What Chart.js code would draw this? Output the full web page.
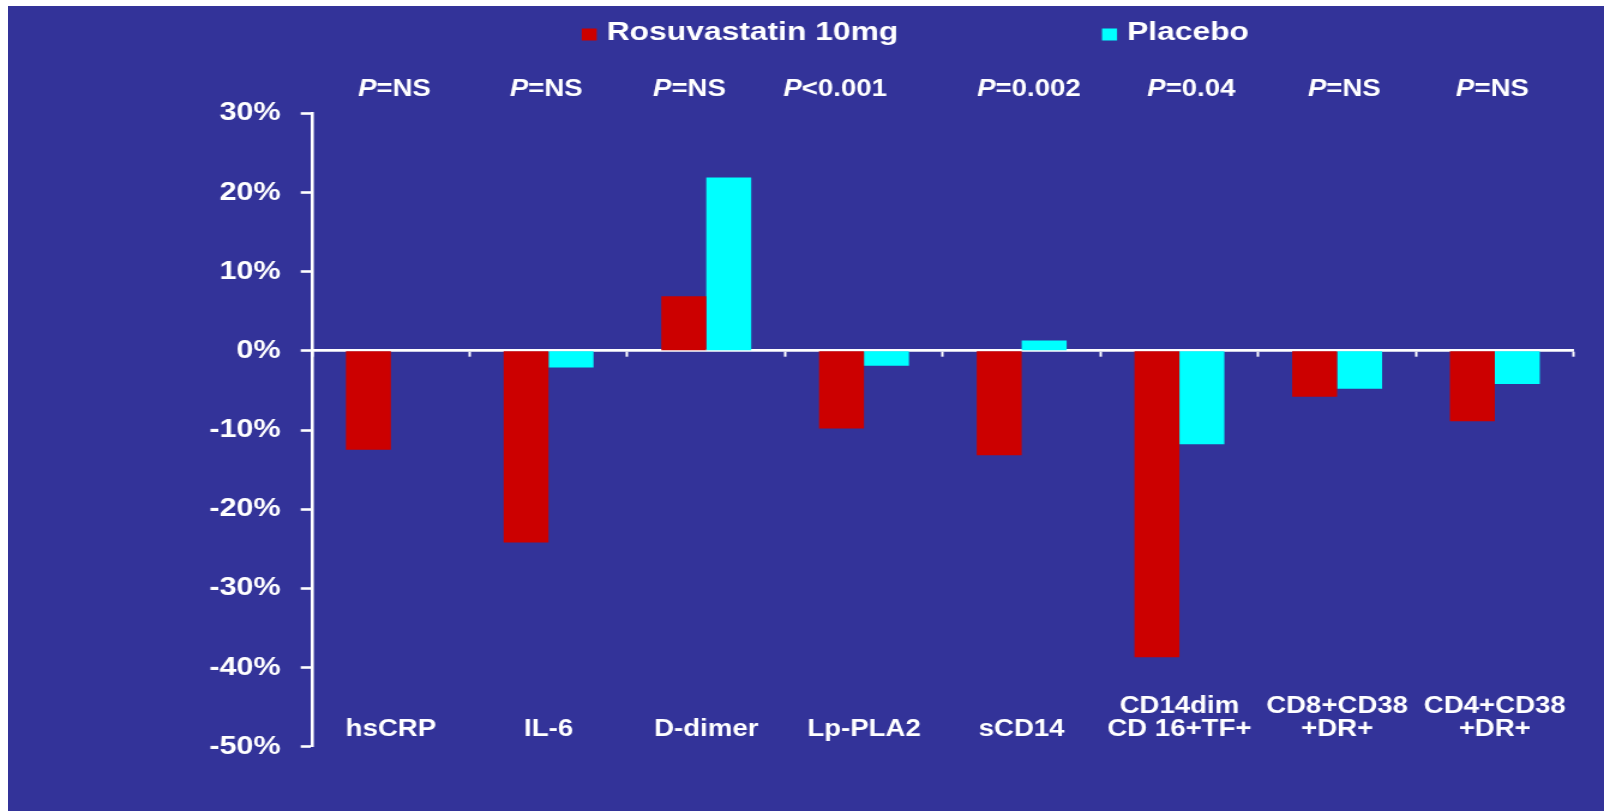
<!DOCTYPE html>
<html>
<head>
<meta charset="utf-8">
<title>Rosuvastatin 10mg vs Placebo</title>
<script src="https://cdn.jsdelivr.net/npm/chart.js@4.4.1/dist/chart.umd.min.js"></script>
<style>
  html, body { margin: 0; padding: 0; width: 1604px; height: 811px; overflow: hidden; background: #ffffff; }
  #panel { position: absolute; left: 8px; top: 6px; right: 0; bottom: 0; background: #333399; }
  /* the slide artwork is wide-set: draw at 1337px and stretch to the full 1604px */
  #wrap { position: absolute; left: 0; top: 0; width: 1337px; height: 811px; transform: scaleX(1.1997); transform-origin: 0 0; }
</style>
</head>
<body>
<div id="panel"></div>
<div id="wrap"><canvas id="chart"></canvas></div>
<script>
// Marker categories (multi-line names are arrays)
const categories = ['hsCRP', 'IL-6', 'D-dimer', 'Lp-PLA2', 'sCD14',
  ['CD14dim', 'CD 16+TF+'], ['CD8+CD38', '+DR+'], ['CD4+CD38', '+DR+']];

// Percent change from baseline
const rosuvastatin = [-12.5, -24.2, 6.9, -9.8, -13.2, -38.7, -5.8, -8.9];
const placebo      = [null, -2.1, 21.9, -1.9, 1.3, -11.8, -4.8, -4.2];

// Between-group P values (text following the italic "P")
const pValues = ['=NS', '=NS', '=NS', '<0.001', '=0.002', '=0.04', '=NS', '=NS'];

const seriesNames  = ['Rosuvastatin 10mg', 'Placebo'];
const seriesColors = ['#CC0000', '#00FFFF'];

// Y axis range and tick step, in percent
const yMin = -50, yMax = 30, yStep = 10;

const FONT = '"Liberation Sans", Arial, Helvetica, sans-serif';
const WHITE = '#ffffff';

// Series key drawn across the top of the panel
const seriesKey = {
  id: 'seriesKey',
  afterDraw(chart, args, o) {
    const ctx = chart.ctx;
    ctx.save();
    ctx.font = `bold ${o.size}px ${FONT}`;
    ctx.textBaseline = 'alphabetic';
    ctx.textAlign = 'left';
    let x = o.left;
    chart.data.datasets.forEach(ds => {
      ctx.fillStyle = ds.backgroundColor;
      ctx.fillRect(x, o.boxTop, o.boxWidth, o.boxHeight);
      x += o.boxWidth + o.boxGap;
      ctx.fillStyle = o.color;
      ctx.fillText(ds.label, x, o.baseline);
      x += ctx.measureText(ds.label).width + o.itemGap;
    });
    ctx.restore();
  }
};

// Row of P values above each category, with an italic "P"
const pValueRow = {
  id: 'pValueRow',
  afterDraw(chart, args, o) {
    const ctx = chart.ctx;
    const xs = chart.scales.x;
    const italic = `italic bold ${o.size}px ${FONT}`;
    const upright = `bold ${o.size}px ${FONT}`;
    ctx.save();
    ctx.fillStyle = o.color;
    ctx.textBaseline = 'alphabetic';
    ctx.textAlign = 'left';
    pValues.forEach((rest, i) => {
      ctx.font = italic;
      const wP = ctx.measureText('P').width;
      ctx.font = upright;
      const wR = ctx.measureText(rest).width;
      const cx = xs.getPixelForValue(i) + (o.nudge[i] || 0);
      const left = cx - (wP + wR) / 2;
      ctx.font = italic;
      ctx.fillText('P', left, o.baseline);
      ctx.font = upright;
      ctx.fillText(rest, left + wP, o.baseline);
    });
    ctx.restore();
  }
};

new Chart(document.getElementById('chart'), {
  type: 'bar',
  data: {
    labels: categories,
    datasets: [
      { label: seriesNames[0], data: rosuvastatin, backgroundColor: seriesColors[0],
        borderWidth: 0, categoryPercentage: 0.57, barPercentage: 1 },
      { label: seriesNames[1], data: placebo, backgroundColor: seriesColors[1],
        borderWidth: 0, categoryPercentage: 0.57, barPercentage: 1 }
    ]
  },
  options: {
    responsive: true,
    maintainAspectRatio: false,
    animation: false,
    layout: { padding: { left: 160.07, right: 25.3, top: 113.3, bottom: 64.3 } },
    plugins: {
      legend: { display: false },
      tooltip: { enabled: false },
      seriesKey: { size: 26.5, left: 484.9, boxTop: 28.5, boxWidth: 12.5, boxHeight: 12,
                   boxGap: 8.3, itemGap: 169.9, baseline: 40, color: WHITE },
      pValueRow: { size: 23, baseline: 95.5, color: WHITE,
                   nudge: [3, -2, -14, -24, 6, 10, 6, -2] }
    },
    scales: {
      x: {
        type: 'category',
        position: { y: 0 },
        offset: true,
        z: 1,
        // labels sit far below the zero line; keep that gap out of the side margins
        afterFit(scale) { scale.paddingLeft = 0; scale.paddingRight = 0; },
        grid: { display: true, offset: true, drawOnChartArea: false, drawTicks: true,
                tickLength: 5, tickWidth: 2, tickColor: WHITE },
        border: { display: true, color: WHITE, width: 2.7 },
        ticks: { color: WHITE, autoSkip: false, maxRotation: 0, minRotation: 0,
                 padding: 350.6, crossAlign: 'far',
                 font: { family: FONT, size: 23, weight: 'bold', lineHeight: 1 } }
      },
      y: {
        min: yMin, max: yMax,
        afterFit(scale) { scale.width = 100; },
        grid: { display: true, drawOnChartArea: false, drawTicks: true,
                tickLength: 9.4, tickWidth: 2.6, tickColor: WHITE },
        border: { display: true, color: WHITE, width: 2.6 },
        ticks: { stepSize: yStep, color: WHITE, padding: 16.7,
                 font: { family: FONT, size: 25.5, weight: 'bold' },
                 callback: v => v + '%' }
      }
    }
  },
  plugins: [seriesKey, pValueRow]
});
</script>
</body>
</html>
